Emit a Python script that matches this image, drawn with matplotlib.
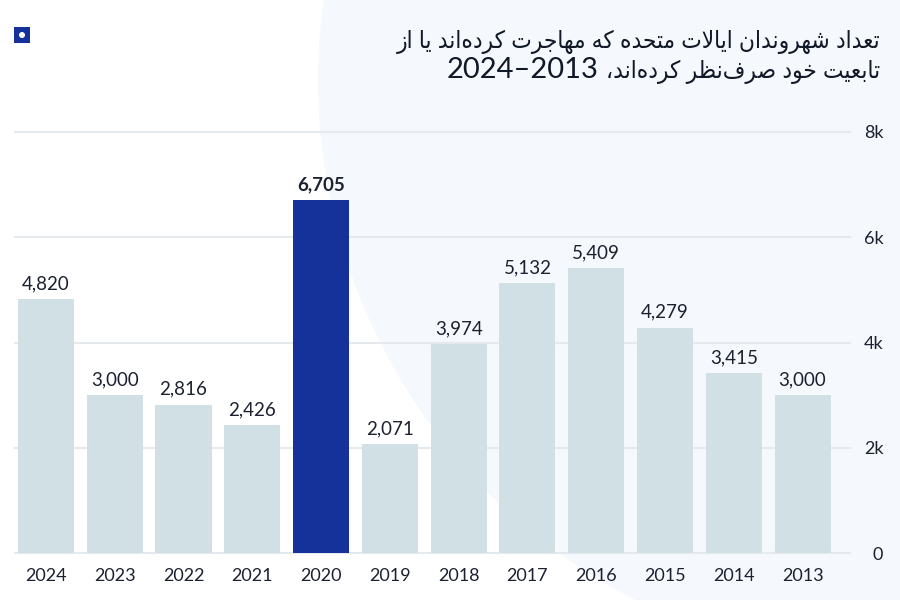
import matplotlib
matplotlib.use("Agg")
import matplotlib.pyplot as plt
from matplotlib.patches import Ellipse, Rectangle

# Datos
years = ["2024", "2023", "2022", "2021", "2020", "2019",
         "2018", "2017", "2016", "2015", "2014", "2013"]
values = [4820, 3000, 2816, 2426, 6705, 2071, 3974, 5132, 5409, 4279, 3415, 3000]
highlight_year = "2020"
y_ticks = [0, 2000, 4000, 6000, 8000]
y_tick_labels = ["0", "2k", "4k", "6k", "8k"]
title_line1 = "تعداد شهروندان ایالات متحده که مهاجرت کرده‌اند یا از"
title_line2 = "تابعیت خود صرف‌نظر کرده‌اند،"
title_years = "2013–2024"

BAR_COLOR = "#d0e0e4"
HIGHLIGHT_COLOR = "#15329a"
TEXT_COLOR = "#1c2130"
TITLE_COLOR = "#111827"

# Formas de presentacion arabes: (aislada, final, inicial, media)
FORMS = {
    "ا": (0xFE8D, 0xFE8E, None, None),
    "ب": (0xFE8F, 0xFE90, 0xFE91, 0xFE92),
    "ت": (0xFE95, 0xFE96, 0xFE97, 0xFE98),
    "ج": (0xFE9D, 0xFE9E, 0xFE9F, 0xFEA0),
    "ح": (0xFEA1, 0xFEA2, 0xFEA3, 0xFEA4),
    "خ": (0xFEA5, 0xFEA6, 0xFEA7, 0xFEA8),
    "د": (0xFEA9, 0xFEAA, None, None),
    "ر": (0xFEAD, 0xFEAE, None, None),
    "ز": (0xFEAF, 0xFEB0, None, None),
    "ش": (0xFEB5, 0xFEB6, 0xFEB7, 0xFEB8),
    "ص": (0xFEB9, 0xFEBA, 0xFEBB, 0xFEBC),
    "ظ": (0xFEC5, 0xFEC6, 0xFEC7, 0xFEC8),
    "ع": (0xFEC9, 0xFECA, 0xFECB, 0xFECC),
    "ف": (0xFED1, 0xFED2, 0xFED3, 0xFED4),
    "ل": (0xFEDD, 0xFEDE, 0xFEDF, 0xFEE0),
    "م": (0xFEE1, 0xFEE2, 0xFEE3, 0xFEE4),
    "ن": (0xFEE5, 0xFEE6, 0xFEE7, 0xFEE8),
    "ه": (0xFEE9, 0xFEEA, 0xFEEB, 0xFEEC),
    "و": (0xFEED, 0xFEEE, None, None),
    "ی": (0xFBFC, 0xFBFD, 0xFBFE, 0xFBFF),
    "ک": (0xFB8E, 0xFB8F, 0xFB90, 0xFB91),
}


def joins_next(ch):
    return ch in FORMS and FORMS[ch][2] is not None


def shape_persian(text):
    """Da forma a las letras y devuelve el texto en orden visual."""
    out = []
    i = 0
    n = len(text)
    while i < n:
        ch = text[i]
        if ch == "\u200c":
            i += 1
            continue
        if ch not in FORMS:
            out.append(ch)
            i += 1
            continue
        prev = text[i - 1] if i > 0 else ""
        nxt = text[i + 1] if i + 1 < n else ""
        cp = joins_next(prev)
        if ch == "ل" and nxt == "ا":
            out.append(chr(0xFEFC if cp else 0xFEFB))
            i += 2
            continue
        cn = joins_next(ch) and nxt in FORMS
        iso, fin, ini, med = FORMS[ch]
        if cp and cn:
            out.append(chr(med))
        elif cp:
            out.append(chr(fin))
        elif cn:
            out.append(chr(ini))
        else:
            out.append(chr(iso))
        i += 1
    # orden visual: los numeros quedan de izquierda a derecha
    tokens = []
    for ch in out:
        if ch.isdigit() and tokens and tokens[-1].isdigit():
            tokens[-1] += ch
        else:
            tokens.append(ch)
    return "".join(reversed(tokens))


plt.rcParams["font.family"] = ["Lato", "DejaVu Sans"]

fig = plt.figure(figsize=(9, 6), dpi=100, facecolor="white")

# fondo azul claro
fig.add_artist(Ellipse((903 / 900, 1 - 80 / 600), 2 * 585 / 900, 2 * 585 / 600,
                       transform=fig.transFigure, color="#f5f8fc", zorder=-2, lw=0))

ax = fig.add_axes([15 / 900, 47 / 600, 835 / 900, (553 - 132) / 600])
ax.patch.set_alpha(0)

x = list(range(len(years)))
colors = [HIGHLIGHT_COLOR if y == highlight_year else BAR_COLOR for y in years]
bars = ax.bar(x, values, width=0.815, color=colors, zorder=2)

ax.set_xlim(-0.45, 11.69)
ax.set_ylim(0, 8000)

ax.set_yticks(y_ticks)
ax.set_yticklabels(y_tick_labels, ha="right")
ax.yaxis.tick_right()
ax.yaxis.grid(True, color="#e6e9ee", linewidth=1.5, zorder=0)
ax.set_axisbelow(True)
for line in ax.get_ygridlines():
    line.set_clip_on(False)
ax.tick_params(axis="y", length=0, pad=24, labelsize=13, labelcolor=TEXT_COLOR)

ax.set_xticks(x, years)
ax.tick_params(axis="x", length=0, pad=11, labelsize=13, labelcolor=TEXT_COLOR)

for spine in ax.spines.values():
    spine.set_visible(False)

labels = ax.bar_label(bars, labels=[f"{v:,}" for v in values], padding=5,
                      fontsize=13.5, color=TEXT_COLOR)
for lab, y in zip(labels, years):
    if y == highlight_year:
        lab.set_fontweight("bold")

# titulo
title_kw = dict(ha="right", va="baseline", fontsize=17.5, color=TITLE_COLOR,
                fontstretch="condensed")
fig.text(880 / 900, 1 - 48 / 600, shape_persian(title_line1), **title_kw)
t2 = fig.text(880 / 900, 1 - 78 / 600, shape_persian(title_line2), **title_kw)
renderer = fig.canvas.get_renderer()
left_px = t2.get_window_extent(renderer).x0
fig.text((left_px - 7) / 900, 1 - 78 / 600, shape_persian(title_years), ha="right",
         va="baseline", fontsize=21, color=TITLE_COLOR)

# icono
fig.add_artist(Rectangle((14 / 900, 1 - 43 / 600), 16 / 900, 16 / 600,
                         transform=fig.transFigure, color=HIGHLIGHT_COLOR, lw=0))
fig.add_artist(Ellipse((22 / 900, 1 - 35 / 600), 6 / 900, 6 / 600,
                       transform=fig.transFigure, color="white", lw=0))

fig.savefig("out.png", dpi=100, facecolor=fig.get_facecolor())
